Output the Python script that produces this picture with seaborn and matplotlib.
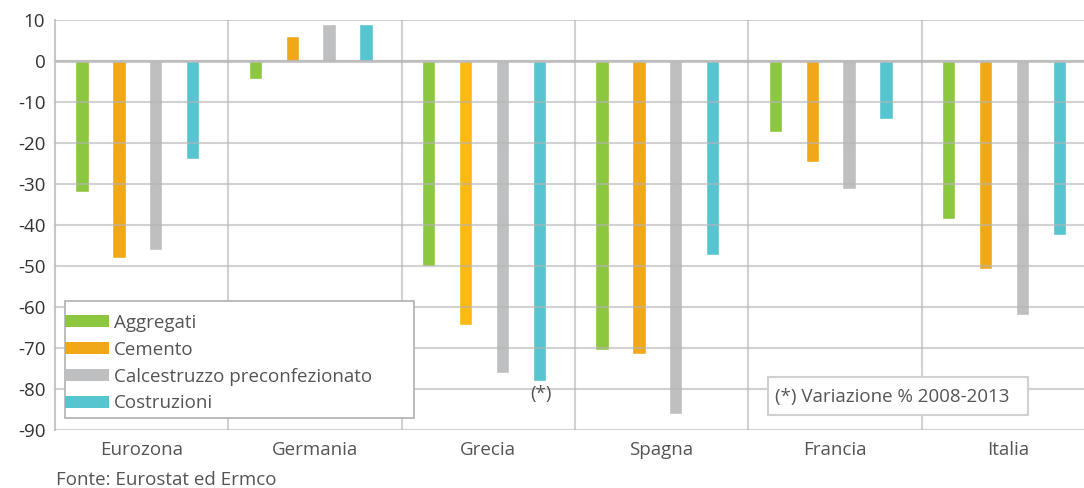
import numpy as np
import pandas as pd
import seaborn as sns
import matplotlib.pyplot as plt
import matplotlib.transforms as mtransforms
from matplotlib.patches import Patch, Rectangle

categories = ["Eurozona", "Germania", "Grecia", "Spagna", "Francia", "Italia"]
series = ["Aggregati", "Cemento", "Calcestruzzo preconfezionato", "Costruzioni"]
aggregati = [-32, -4.5, -50, -70.5, -17.3, -38.5]
cemento = [-48, 6, -64.4, -71.4, -24.6, -50.7]
calcestruzzo = [-46, 9, -76, -86, -31.1, -62]
costruzioni = [-24, 9, -78, -47.3, -14.1, -42.4]
yticks = list(range(-90, 11, 10))
colors = ["#8DC63F", "#F0A818", "#BEBFC1", "#56C5D0"]

sns.set_theme(style="white")
plt.rcParams['font.family'] = ['Open Sans', 'DejaVu Sans']
FS = 13.5

rows = []
for s, vals in zip(series, [aggregati, cemento, calcestruzzo, costruzioni]):
    for c, v in zip(categories, vals):
        rows.append({"Paese": c, "Serie": s, "Valore": v})
df = pd.DataFrame(rows)

fig = plt.figure(figsize=(10.84, 4.88), dpi=100)
W, H = 1084, 488
ax = fig.add_axes([55 / W, 58 / H, (W - 55) / W, 410 / H])

sns.barplot(data=df, x="Paese", y="Valore", hue="Serie", order=categories,
            hue_order=series, palette=colors, saturation=1, width=0.85,
            gap=0.64, legend=False, ax=ax)
# Greek cement bar is a brighter yellow in the reference
ax.containers[1][2].set_facecolor("#FDB913")

ax.set_ylim(-90, 10)
ax.set_xlim(-0.5 + 0.025, 5.5 - 11 / 173.3 + 0.025)
ax.set_yticks(yticks)
ax.set_yticklabels([str(t) for t in yticks], fontsize=FS, color="#333333")
ax.set_xticks(range(len(categories)))
ax.set_xticklabels([])
off = mtransforms.ScaledTranslation(4 / 100, -11 / 100, fig.dpi_scale_trans)
for i, cat in enumerate(categories):
    ax.text(i, 0, cat, ha="center", va="top", fontsize=FS, color="#555555",
            transform=ax.get_xaxis_transform() + off)
ax.set_xlabel("")
ax.set_ylabel("")
ax.tick_params(axis="y", length=0, pad=7)
ax.tick_params(axis="x", length=0)

ax.set_axisbelow(False)
ax.yaxis.grid(True, color="#b5b5b5", alpha=0.6, linewidth=1.5)
for xb in np.arange(0.5, 5.5, 1.0):
    ax.axvline(xb + 0.025, color="#b5b5b5", alpha=0.6, linewidth=1.5, zorder=2.5)
ax.axhline(0, color="#b5b5b5", alpha=0.7, linewidth=2.2, zorder=2.5)
for sp in ["top", "right", "bottom"]:
    ax.spines[sp].set_visible(False)
ax.spines["left"].set_color("#c8c8c8")
ax.spines["left"].set_linewidth(1.5)

# (*) marker below Greek construction bar
ax.text(2.33, -81.2, "(*)", ha="center", va="center", fontsize=FS, color="#555555")

# legend box
rect = Rectangle((65 / W, 1 - 418 / H), (414 - 65) / W, (418 - 301) / H,
                 transform=fig.transFigure, facecolor="white",
                 edgecolor="#b0b0b0", linewidth=1.2, zorder=4.9)
ax.add_patch(rect)
rect.set_clip_on(False)
handles = [Patch(facecolor=c, edgecolor="none") for c in colors]
leg = ax.legend(handles, series, loc="upper left",
                bbox_to_anchor=(65 / W, 1 - 314 / H), bbox_transform=fig.transFigure,
                frameon=False, borderpad=0, borderaxespad=0, fontsize=FS,
                handlelength=2.35, handleheight=0.59, handletextpad=0.27,
                labelspacing=0.47)
leg.set_zorder(5)
for t in leg.get_texts():
    t.set_color("#555555")

# note box
nbox = Rectangle((768 / W, 1 - 415 / H), (1028 - 768) / W, (415 - 377) / H,
                 transform=fig.transFigure, facecolor="white",
                 edgecolor="#d0d0d0", linewidth=1.5, zorder=4.9)
ax.add_patch(nbox)
nbox.set_clip_on(False)
ax.text(775 / W, 1 - 397 / H, "(*) Variazione % 2008-2013", ha="left", va="center",
        fontsize=FS, color="#555555", transform=fig.transFigure, zorder=5)

fig.text(56 / W, 1 - 480 / H, "Fonte: Eurostat ed Ermco", ha="left", va="center",
         fontsize=FS, color="#555555")

fig.savefig("out.png", dpi=100)
